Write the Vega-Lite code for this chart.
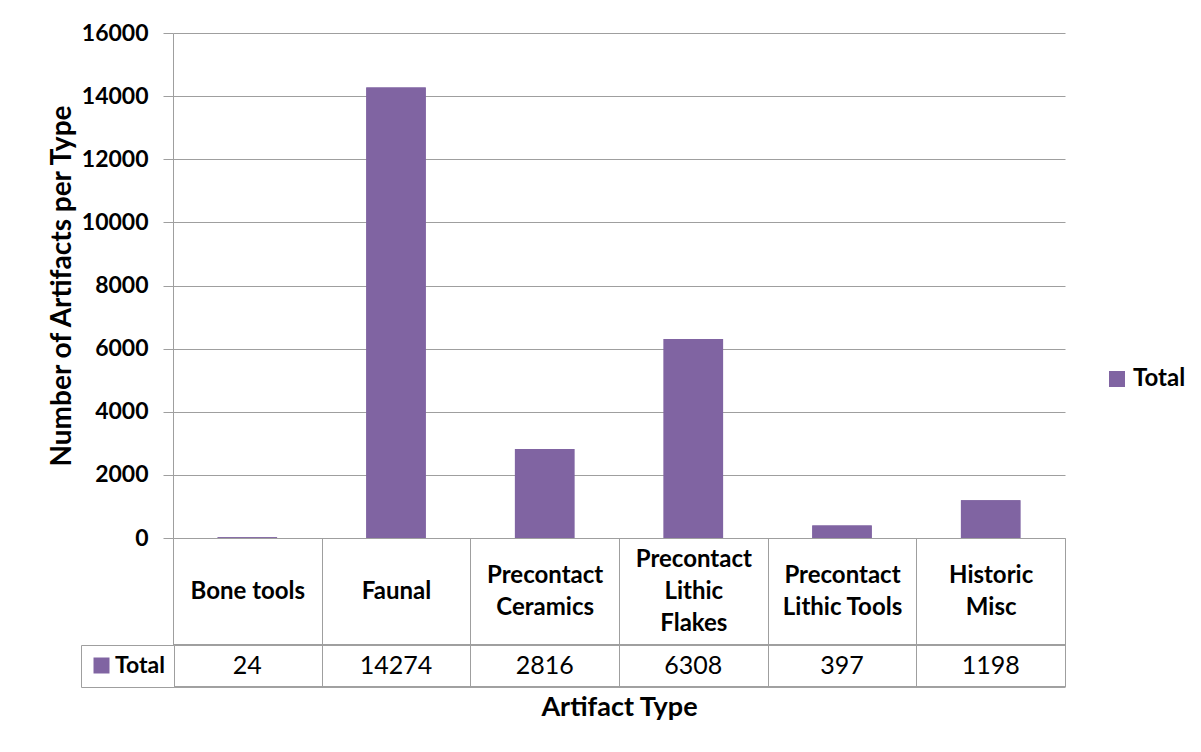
{
  "$schema": "https://vega.github.io/schema/vega-lite/v6.json",
  "width": 892,
  "height": 505,
  "autosize": {"type": "none"},
  "padding": {"left": 173, "top": 33, "right": 136, "bottom": 214},
  "background": "white",
  "config": {
    "font": "Lato",
    "view": {"stroke": null},
    "axis": {"labelColor": "black", "titleColor": "black", "labelFontWeight": "bold", "titleFontWeight": "bold"},
    "legend": {"labelColor": "black", "labelFontWeight": "bold"}
  },
  "data": {
    "values": [
      {"type": "Bone tools", "series": "Total", "count": 24},
      {"type": "Faunal", "series": "Total", "count": 14274},
      {"type": "Precontact Ceramics", "series": "Total", "count": 2816},
      {"type": "Precontact Lithic Flakes", "series": "Total", "count": 6308},
      {"type": "Precontact Lithic Tools", "series": "Total", "count": 397},
      {"type": "Historic Misc", "series": "Total", "count": 1198}
    ]
  },
  "layer": [
    {
      "mark": {"type": "bar", "width": {"band": 0.4}},
      "encoding": {
        "x": {
          "field": "type", "type": "nominal", "sort": null,
          "scale": {"paddingInner": 0, "paddingOuter": 0},
          "axis": {
            "title": "Artifact Type",
            "titleFontSize": 27,
            "titlePadding": 7,
            "labelAngle": 0,
            "labelFontSize": 24,
            "labelLineHeight": 32,
            "labelBaseline": "middle",
            "labelPadding": {
              "condition": [
                {"test": "datum.value == 'Precontact Lithic Flakes'", "value": -127.5},
                {"test": "datum.value == 'Precontact Ceramics' || datum.value == 'Precontact Lithic Tools' || datum.value == 'Historic Misc'", "value": -111.5}
              ],
              "value": -95.5
            },
            "labelOverlap": false,
            "labelBound": false,
            "labelLimit": 0,
            "labelExpr": "datum.value == 'Precontact Ceramics' ? ['Precontact', 'Ceramics'] : datum.value == 'Precontact Lithic Flakes' ? ['Precontact', 'Lithic', 'Flakes'] : datum.value == 'Precontact Lithic Tools' ? ['Precontact', 'Lithic Tools'] : datum.value == 'Historic Misc' ? ['Historic', 'Misc'] : datum.label",
            "tickBand": "extent",
            "tickSize": 149,
            "tickColor": "#9f9f9f",
            "domainColor": "#9f9f9f",
            "grid": false
          }
        },
        "y": {
          "field": "count", "type": "quantitative",
          "scale": {"domain": [0, 16000], "nice": false},
          "axis": {
            "title": "Number  of Artifacts per Type",
            "titleFontSize": 28,
            "titlePadding": 5,
            "values": [0, 2000, 4000, 6000, 8000, 10000, 12000, 14000, 16000],
            "format": "d",
            "labelFontSize": 23,
            "labelPadding": 15,
            "tickSize": 10,
            "tickColor": "#9f9f9f",
            "domainColor": "#9f9f9f",
            "gridColor": "#9f9f9f",
            "grid": true
          }
        },
        "color": {
          "field": "series", "type": "nominal",
          "scale": {"range": ["#8064A2"]},
          "legend": {
            "title": null, "orient": "none", "legendX": 932, "legendY": 334,
            "symbolType": "square", "symbolSize": 256, "symbolStrokeWidth": 0,
            "labelFontSize": 24, "labelOffset": 4, "padding": 0
          }
        }
      }
    },
    {
      "mark": {"type": "bar", "width": {"band": 0.4}},
      "encoding": {
        "x": {"field": "type", "type": "nominal", "sort": null},
        "y": {"field": "count", "type": "quantitative"},
        "fill": {
          "field": "series", "type": "nominal",
          "scale": {"range": ["#8064A2"]},
          "legend": {
            "title": null, "orient": "none", "legendX": -92, "legendY": 612,
            "strokeColor": "#9f9f9f", "fillColor": "white", "padding": 9,
            "symbolType": "square", "symbolSize": 256, "symbolStrokeWidth": 0,
            "symbolOffset": 0,
            "labelFontSize": 23, "labelOffset": 2
          }
        }
      }
    },
    {
      "mark": {"type": "text", "fontSize": 25, "fontWeight": "normal", "color": "black", "baseline": "middle"},
      "encoding": {
        "x": {"field": "type", "type": "nominal", "sort": null},
        "y": {"datum": -4055},
        "text": {"field": "count", "type": "quantitative", "format": "d"}
      }
    },
    {
      "mark": {"type": "rule", "color": "#9f9f9f"},
      "encoding": {"y": {"datum": -3390}}
    },
    {
      "mark": {"type": "rule", "color": "#9f9f9f"},
      "encoding": {"y": {"datum": -4721}}
    }
  ]
}
